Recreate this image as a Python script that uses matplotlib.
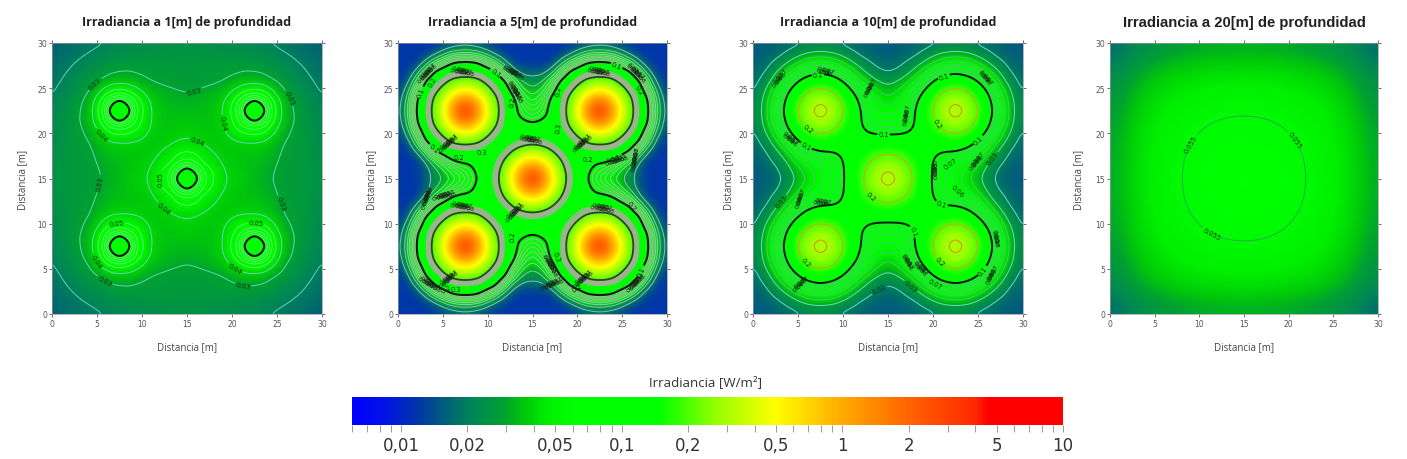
#!/usr/bin/env python3
import matplotlib
matplotlib.use('Agg')
import matplotlib.pyplot as plt
import numpy as np
from matplotlib.cm import ScalarMappable
from matplotlib.colors import LinearSegmentedColormap, LogNorm
from matplotlib.ticker import FixedFormatter, FixedLocator, LogLocator, NullFormatter

W, H = 1407, 460

# --- colour scale (W/m2) ---
CMAP_VALUES = [0.006, 0.0085, 0.012, 0.017, 0.021, 0.029, 0.036, 0.047, 0.06, 0.148, 0.27, 0.5, 1, 2, 4, 4.6, 10]
CMAP_COLORS = ['#0000ff', '#0014e6', '#0038a6', '#00696e', '#008755', '#00a032', '#00c80a', '#00f000', '#00ff00',
               '#00ff00', '#96ff00', '#ffff00', '#ffaa00', '#ff6400', '#ff2800', '#ff0000', '#ff0000']
BAR_TICKS = [0.01, 0.02, 0.05, 0.1, 0.2, 0.5, 1, 2, 5, 10]
BAR_LABELS = ['0,01', '0,02', '0,05', '0,1', '0,2', '0,5', '1', '2', '5', '10']

# --- irradiance, lower-left quadrant, rows = y, columns = x ---
NODES_1M = [0, 2, 4, 5.5, 6.5, 7.5, 8.5, 9.5, 11, 12, 13, 14, 15]
IRR_1M = [
    [.016, .0175, .0185, .0197, .0205, .021, .0215, .0218, .0225, .023, .0235, .024, .024],
    [.0175, .0192, .0213, .0232, .0245, .0255, .026, .0262, .0265, .0265, .0265, .0265, .0265],
    [.0185, .0213, .0255, .03, .033, .034, .034, .032, .0295, .0285, .028, .0278, .0275],
    [.0197, .0232, .03, .043, .053, .058, .053, .045, .035, .033, .0315, .0305, .03],
    [.0205, .0245, .033, .053, .085, .115, .085, .056, .039, .035, .0335, .0325, .032],
    [.021, .0255, .034, .058, .115, .18, .115, .06, .04, .036, .0345, .034, .034],
    [.0215, .026, .034, .053, .085, .115, .085, .056, .04, .036, .035, .0355, .036],
    [.0218, .0262, .032, .045, .056, .06, .056, .05, .039, .036, .036, .037, .038],
    [.0225, .0265, .0295, .035, .039, .04, .04, .039, .036, .0365, .0385, .0405, .041],
    [.023, .0265, .0285, .033, .035, .036, .036, .036, .0365, .0395, .043, .048, .05],
    [.0235, .0265, .028, .0315, .0335, .0345, .035, .036, .0385, .043, .046, .056, .062],
    [.024, .0265, .0278, .0305, .0325, .034, .0355, .037, .0405, .048, .056, .085, .115],
    [.024, .0265, .0275, .03, .032, .034, .036, .038, .041, .05, .062, .115, .18],
]

NODES_5M = list(range(16))
IRR_5M = [
    [.012, .012, .012, .012, .012, .012, .013, .0135, .0135, .013, .012, .012, .012, .012, .012, .012],
    [.012, .012, .012, .012, .0145, .022, .032, .039, .039, .032, .022, .0145, .012, .012, .012, .012],
    [.012, .012, .012, .019, .039, .066, .1, .107, .107, .1, .066, .039, .019, .012, .012, .012],
    [.012, .012, .019, .047, .1, .122, .13, .134, .134, .13, .122, .1, .047, .02, .015, .015],
    [.012, .0145, .039, .1, .126, .148, .2, .225, .225, .2, .148, .126, .1, .045, .025, .023],
    [.012, .022, .066, .122, .148, .225, .34, .43, .43, .34, .225, .148, .122, .075, .038, .03],
    [.013, .032, .1, .13, .2, .34, .62, 1.05, 1.05, .62, .34, .2, .13, .105, .06, .04],
    [.0135, .039, .107, .134, .225, .43, 1.05, 2.3, 2.3, 1.05, .43, .225, .134, .11, .08, .055],
    [.0135, .039, .107, .134, .225, .43, 1.05, 2.3, 2.3, 1.05, .43, .225, .134, .108, .09, .08],
    [.013, .032, .1, .13, .2, .34, .62, 1.05, 1.05, .62, .34, .2, .13, .12, .112, .105],
    [.012, .022, .066, .122, .148, .225, .34, .43, .43, .34, .225, .148, .13, .125, .125, .125],
    [.012, .0145, .039, .1, .126, .148, .2, .225, .225, .2, .148, .13, .125, .14, .16, .17],
    [.012, .012, .019, .047, .1, .122, .13, .134, .134, .13, .13, .125, .15, .22, .29, .33],
    [.012, .012, .012, .02, .045, .075, .105, .11, .108, .12, .125, .14, .22, .37, .55, .7],
    [.012, .012, .012, .015, .025, .038, .06, .08, .09, .112, .125, .16, .29, .55, 1.2, 1.8],
    [.012, .012, .012, .015, .023, .03, .04, .055, .08, .105, .125, .17, .33, .7, 1.8, 2.8],
]

NODES_10M = [0, 1.5, 3, 4.5, 6, 7.5, 9, 10.5, 12, 13.5, 15]
IRR_10M = [
    [.015, .0155, .016, .0165, .018, .019, .018, .0165, .016, .0155, .015],
    [.0155, .0165, .019, .027, .037, .04, .037, .027, .019, .017, .016],
    [.016, .019, .032, .053, .073, .085, .073, .053, .032, .021, .018],
    [.0165, .027, .053, .095, .15, .175, .15, .095, .055, .036, .028],
    [.018, .037, .073, .15, .24, .295, .24, .15, .085, .05, .04],
    [.019, .04, .085, .175, .295, .34, .295, .175, .1, .06, .055],
    [.018, .037, .073, .15, .24, .295, .24, .155, .1, .072, .072],
    [.0165, .027, .053, .095, .15, .175, .155, .125, .115, .113, .11],
    [.016, .019, .032, .055, .085, .1, .1, .115, .14, .17, .19],
    [.0155, .017, .021, .036, .05, .06, .072, .113, .17, .245, .295],
    [.015, .016, .018, .028, .04, .055, .072, .11, .19, .295, .34],
]

NODES_20M = [0, 2.5, 5, 7.5, 10, 12.5, 15]
IRR_20M = [
    [.016, .0192, .0235, .0261, .0278, .0287, .029],
    [.0192, .0264, .0324, .036, .0384, .0397, .04],
    [.0235, .0324, .0397, .0441, .047, .0486, .049],
    [.0261, .036, .0441, .049, .0522, .054, .0545],
    [.0278, .0384, .047, .0522, .0556, .0576, .058],
    [.0287, .0397, .0486, .054, .0576, .0595, .06],
    [.029, .04, .049, .0545, .058, .06, .0605],
]

# --- contour labels ---
LABELS_1M = {0.03: [(4.9, 25.4), (15.7, 24.9), (26, 23.7), (5.3, 14.5), (25.3, 12.2), (6, 3.9), (21.3, 3.5)],
             0.04: [(5.8, 20.1), (16, 18.9), (19.4, 21.2), (12.5, 11.8), (5.2, 6), (20.6, 5.4)],
             0.05: [(7.3, 9.5), (22.6, 9.5), (12.4, 15)]}
LABELS_5M = {0.1: [(3.1, 24.3), (11, 26.9), (24.1, 26.9), (3.7, 18), (24, 17.9), (26.6, 5)]}
CLUMPS_5M = [(3.3, 26.7, 45), (7.2, 26.8, -10), (12.8, 26.7, -30), (13, 24.6, -60), (5.7, 18.9, 40),
             (14.8, 19.3, -10), (20.6, 18.9, 40), (22.4, 26.8, -10), (26.5, 26.7, -45), (26.5, 17.2, 80),
             (24.4, 17, 15), (3.3, 13, 70), (5.2, 13.1, 15), (7.2, 11.9, -10), (22.8, 11.7, -10),
             (13.1, 11.3, 45), (5.7, 3.9, 40), (3.5, 3.3, -30), (20.7, 3.9, 40), (26.6, 3.5, 45),
             (16.9, 5.4, -60), (17.2, 3.3, 20)]
TEXTS_5M = [('0.2', 12.8, 23.5, 80), ('0.2', 17.9, 24.7, 80), ('0.3', 17.9, 20.6, 80), ('0.2', 21.2, 17.2, 0),
            ('0.2', 6.8, 17.4, 0), ('0.3', 9.4, 17.9, 0), ('0.2', 12.8, 8.7, 90), ('0.3', 17.7, 6.4, -70),
            ('0.2', 5.4, 2.8, 30), ('0.3', 6.5, 2.8, 0), ('0.2', 20, 2.9, 30), ('0.2', 26, 12, -50),
            ('0.2', 3.9, 25.8, 60), ('0.2', 26.9, 24.8, -60)]
LABELS_10M = {0.02: [(14, 2.8)], 0.03: [(3.1, 12.5), (17.7, 3.3), (26.9, 17)],
              0.06: [(22.5, 13.5)], 0.07: [(22, 16.6), (20.2, 3.3)],
              0.1: [(7.2, 26.7), (14.5, 19.7), (5.9, 18.6), (21.2, 26.3), (25, 19.3), (20.9, 12), (18, 9.2), (25.5, 4.8)],
              0.2: [(6, 20.4), (20.3, 21), (13, 12.9), (5.8, 5.7), (20.8, 5.8)]}
CLUMPS_10M = [(8, 26.8, -15), (3, 26.1, 50), (13, 25, 60), (17.1, 22, 80), (25.8, 26.1, -50), (4.1, 19.3, -40),
              (24.9, 16.9, 50), (20.3, 16.1, 90), (5.3, 12.8, 70), (7.7, 12.3, -10), (26.9, 8.3, -80),
              (5.3, 3.3, 40), (17.1, 5.7, -60), (18.6, 5, -45), (26.6, 4.3, 60)]
LABELS_20M = {0.055: [(8.5, 19.2), (11.1, 8.4), (21, 19.5)]}
CLUMP_TEXTS = ['0.04', '0.05', '0.06', '0.07']
CLUMP_TEXTS_5M = ['0.02', '0.03', '0.04', '0.05', '0.06', '0.07', '0.08']

LOW_LEVELS = [.02, .03, .04, .05, .06, .07, .08, .09]

cmap = LinearSegmentedColormap.from_list(
    'irr', [((np.log10(v) - np.log10(CMAP_VALUES[0])) / (np.log10(CMAP_VALUES[-1]) - np.log10(CMAP_VALUES[0])), c)
            for v, c in zip(CMAP_VALUES, CMAP_COLORS)], N=512)
norm = LogNorm(CMAP_VALUES[0], CMAP_VALUES[-1])


def box(x0, x1, y0, y1):
    return [x0 / W, 1 - y1 / H, (x1 - x0) / W, (y1 - y0) / H]


def field(nodes, quadrant, sigma):
    # mirror the quadrant, then put it on a fine raster and soften it so the contours come out round
    q = np.log10(np.array(quadrant, dtype=float))
    q = np.vstack([q, q[-2::-1]])
    z = np.hstack([q, q[:, -2::-1]])
    nodes = np.array(nodes, dtype=float)
    x = np.r_[nodes, 30 - nodes[-2::-1]]
    fine = np.linspace(0, 30, 301)
    z = np.array([np.interp(fine, x, row) for row in z])
    z = np.array([np.interp(fine, x, col) for col in z.T]).T
    half = int(4 * sigma / 0.1)
    kernel = np.exp(-0.5 * (np.arange(-half, half + 1) * 0.1 / sigma) ** 2)
    kernel /= kernel.sum()
    z = np.pad(z, half, mode='reflect')
    z = np.array([np.convolve(row, kernel, mode='same') for row in z])
    z = np.array([np.convolve(col, kernel, mode='same') for col in z.T]).T
    return fine, 10 ** z[half:-half, half:-half]


def draw_levels(ax, grid, z, levels, colors, widths, labels):
    # one contour set per level, clabel(manual=...) only works that way
    for level, color, width in zip(levels, colors, widths):
        cs = ax.contour(grid, grid, z, levels=[level], colors=color, linewidths=width)
        if level in labels:
            ax.clabel(cs, manual=labels[level], fmt='%g', fontsize=4.8, colors='#0a2a0a',
                      inline=True, inline_spacing=1)


def add_clumps(ax, clumps, texts):
    for cx, cy, rot in clumps:
        a = np.radians(rot)
        mid = (len(texts) - 1) / 2
        for k, lab in enumerate(texts):
            ax.text(cx + (k - mid) * 0.2 * np.cos(a), cy + (k - mid) * 0.2 * np.sin(a) + (k % 2) * 0.25, lab,
                    fontsize=4.6, rotation=rot, ha='center', va='center', color='#102010')


def panel(pos, nodes, quadrant, sigma, title, title_style, ylab_x):
    ax = fig.add_axes(box(*pos))
    grid, z = field(nodes, quadrant, sigma)
    ax.imshow(z, extent=[0, 30, 0, 30], origin='lower', aspect='auto', cmap=cmap, norm=norm, interpolation='bilinear')
    ax.set_xlim(0, 30)
    ax.set_ylim(0, 30)
    ax.set_xticks(range(0, 31, 5))
    ax.set_yticks(range(0, 31, 5))
    ax.tick_params(length=2, width=0.6, labelsize=5.5, colors='#555555', top=True, right=True, pad=1.5)
    for s in ax.spines.values():
        s.set_color('#999999')
        s.set_linewidth(0.5)
    fig.text(0.5 * (pos[0] + pos[1]) / W, 1 - 348 / H, 'Distancia [m]', ha='center', va='center',
             fontsize=7, color='#444444', family='Open Sans')
    fig.text(ylab_x / W, 1 - 0.5 * (pos[2] + pos[3]) / H, 'Distancia [m]', rotation=90, ha='center', va='center',
             fontsize=7, color='#444444', family='Open Sans')
    fig.text(0.5 * (pos[0] + pos[1]) / W, 1 - 22.5 / H, title, ha='center', va='center', color='#222222', **title_style)
    return ax, grid, z


fig = plt.figure(figsize=(W / 100, H / 100), dpi=100)

TITLE_A = dict(fontsize=9, fontweight='bold', family='Open Sans')
TITLE_B = dict(fontsize=10.7, fontweight='bold', family='Liberation Sans')

# 1 m
ax, grid, z = panel((52, 322, 44, 315), NODES_1M, IRR_1M, 0.3, 'Irradiancia a 1[m] de profundidad', TITLE_A, 23)
draw_levels(ax, grid, z, LOW_LEVELS + [0.1], ['#5fd6b4'] * 3 + ['#66ee77'] * 5 + ['#0a1a0a'], [0.7] * 3 + [0.6] * 5 + [1.5], LABELS_1M)

# 5 m
ax, grid, z = panel((398, 667, 44, 315), NODES_5M, IRR_5M, 0.4, 'Irradiancia a 5[m] de profundidad', TITLE_A, 372)
ax.contour(grid, grid, z, levels=[.15, .16, .17, .18], colors='#a9ad9c', linewidths=1)
ax.contour(grid, grid, z, levels=[.11], colors='#30e050', linewidths=0.4)
draw_levels(ax, grid, z, LOW_LEVELS + [0.1, 0.2],
            ['#8fb8d0'] * 2 + ['#8fc8b8'] * 2 + ['#a0b8a0'] * 4 + ['#1a1a1a', '#3a3a3a'], [0.7] * 8 + [1.5, 1.3], LABELS_5M)
add_clumps(ax, CLUMPS_5M, CLUMP_TEXTS_5M)
for lab, x, y, rot in TEXTS_5M:
    ax.text(x, y, lab, fontsize=4.8, rotation=rot, ha='center', va='center', color='#0a2a0a')

# 10 m
ax, grid, z = panel((753, 1023, 44, 315), NODES_10M, IRR_10M, 0.55, 'Irradiancia a 10[m] de profundidad', TITLE_A, 729)
draw_levels(ax, grid, z, LOW_LEVELS + [0.1, 0.2, 0.3],
            ['#6fd8c8'] * 2 + ['#48c870'] * 6 + ['#0a1a0a', '#d0a020', '#c89020'], [0.7] * 8 + [1.4, 0.7, 0.7], LABELS_10M)
add_clumps(ax, CLUMPS_10M, CLUMP_TEXTS)

# 20 m
ax, grid, z = panel((1110, 1378, 44, 315), NODES_20M, IRR_20M, 1.0, 'Irradiancia a 20[m] de profundidad', TITLE_B, 1079)
draw_levels(ax, grid, z, [0.055], ['#22b04a'], [0.7], LABELS_20M)

# colour bar
cax = fig.add_axes(box(352, 1063, 398, 426))
cb = fig.colorbar(ScalarMappable(norm=norm, cmap=cmap), cax=cax, orientation='horizontal')
cb.outline.set_visible(False)
cax.xaxis.set_major_locator(FixedLocator(BAR_TICKS))
cax.xaxis.set_major_formatter(FixedFormatter(BAR_LABELS))
cax.xaxis.set_minor_locator(LogLocator(base=10, subs=np.arange(1, 10), numticks=12))
cax.xaxis.set_minor_formatter(NullFormatter())
cax.tick_params(which='both', length=5, width=0.6, color='#888888')
cax.tick_params(labelsize=12, labelcolor='#333333', pad=3)
for t in cax.get_xticklabels():
    t.set_family('DejaVu Sans')
fig.text(706 / W, 1 - 383 / H, 'Irradiancia [W/m²]', ha='center', va='center', fontsize=9.5, color='#333333',
         family='Open Sans')

fig.savefig('out.png', dpi=100)
